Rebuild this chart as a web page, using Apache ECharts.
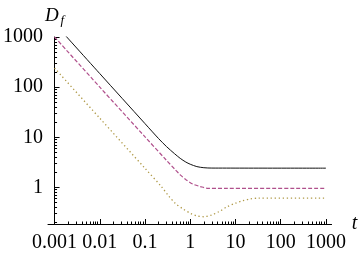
<!DOCTYPE html>
<html><head><meta charset="utf-8">
<script src="https://cdn.jsdelivr.net/npm/echarts@6/dist/echarts.min.js"></script>
<style>html,body{margin:0;padding:0;background:#fff}#c{width:360px;height:256px}</style>
</head><body><div id="c"></div>
<script>
// ---- data ----
const tBlack   = [0.001, 0.01, 0.1, 0.2, 0.3, 0.45, 0.6, 0.8, 1.0, 1.4, 2.0, 3.0, 1000];
const dBlack   = [1860, 186, 18.7, 9.4, 6.5, 4.7, 3.8, 3.2, 2.9, 2.6, 2.47, 2.43, 2.42];
const tMagenta = [0.001, 0.01, 0.1, 0.3, 0.47, 0.6, 0.82, 1.13, 1.68, 2.5, 1000];
const dMagenta = [1000, 100, 10.2, 3.45, 2.24, 1.78, 1.41, 1.17, 1.04, 0.96, 0.96];
const tGold    = [0.001, 0.01, 0.1, 0.23, 0.34, 0.47, 0.7, 1.04, 1.43, 1.97, 2.93, 4.36, 6.5, 9.7, 14.4, 21.4, 31.8, 1000];
const dGold    = [240, 24, 2.4, 1.04, 0.66, 0.48, 0.37, 0.3, 0.27, 0.26, 0.28, 0.33, 0.41, 0.48, 0.54, 0.59, 0.61, 0.61];
const xTickValues = [0.001, 0.01, 0.1, 1, 10, 100, 1000];
const xTickLabels = ['0.001', '0.01', '0.1', '1', '10', '100', '1000'];
const yTickValues = [1, 10, 100, 1000];
const yTickLabels = ['1', '10', '100', '1000'];

// ---- axis transforms (log scale drawn on value axes; t = 0.001 sits at 0) ----
const lx = t => Math.log10(t) + 3;
const ly = d => Math.log10(d);
const xMin = -0.145, xMax = 6.125, yMin = -0.73, yMax = 3;
const font = 'Liberation Serif';

const xMajor = xTickValues.map(lx);
const xMinor = [];
for (let n = -3; n < 3; n++) for (let k = 2; k <= 9; k++) xMinor.push(lx(k * Math.pow(10, n)));
const yMajor = yTickValues.map(ly);
const yMinor = [];
for (let n = -1; n < 3; n++) for (let k = 2; k <= 9; k++) { const v = ly(k * Math.pow(10, n)); if (v >= yMin) yMinor.push(v); }

const nearest = (arr, v) => { let bi = 0; arr.forEach((a, i) => { if (Math.abs(a - v) < Math.abs(arr[bi] - v)) bi = i; }); return bi; };
const pts = (ts, ds) => ts.map((t, i) => [lx(t), ly(ds[i])]);

const chart = echarts.init(document.getElementById('c'), null, {renderer: 'canvas'});
const axisCommon = {type: 'value', splitLine: {show: false}};
chart.setOption({
  animation: false,
  grid: {left: 41, right: 17, top: 37, bottom: 32, containLabel: false},
  xAxis: [
    Object.assign({}, axisCommon, {
      min: xMin, max: xMax, position: 'bottom',
      axisLine: {onZero: false, lineStyle: {color: '#000', width: 1}},
      axisTick: {inside: true, length: 5, customValues: xMajor, lineStyle: {color: '#000', width: 1}},
      axisLabel: {customValues: xMajor, formatter: v => xTickLabels[nearest(xMajor, v)],
        fontFamily: font, fontSize: 20, color: '#000', margin: 9},
      name: 't', nameLocation: 'end', nameGap: 6,
      nameTextStyle: {fontFamily: font, fontStyle: 'italic', fontSize: 20, color: '#000'}
    }),
    Object.assign({}, axisCommon, {
      min: xMin, max: xMax, position: 'bottom',
      axisLine: {show: false, onZero: false},
      axisTick: {inside: true, length: 2.5, customValues: xMinor, lineStyle: {color: '#000', width: 1}},
      axisLabel: {show: false}
    })
  ],
  yAxis: [
    Object.assign({}, axisCommon, {
      min: yMin, max: yMax, position: 'left',
      axisLine: {onZero: true, onZeroAxisIndex: 0, lineStyle: {color: '#000', width: 1}},
      axisTick: {inside: true, length: 5, customValues: yMajor, lineStyle: {color: '#000', width: 1}},
      axisLabel: {customValues: yMajor, formatter: v => yTickLabels[nearest(yMajor, v)],
        fontFamily: font, fontSize: 20, color: '#000', margin: 5},
      name: '{d|D}{f|f}', nameLocation: 'end', nameGap: 6,
      nameTextStyle: {rich: {
        d: {fontFamily: font, fontStyle: 'italic', fontSize: 19, color: '#000'},
        f: {fontFamily: font, fontStyle: 'italic', fontSize: 13, color: '#000', padding: [10, 0, 0, 2]}
      }}
    }),
    Object.assign({}, axisCommon, {
      min: yMin, max: yMax, position: 'left',
      axisLine: {show: false, onZero: true, onZeroAxisIndex: 0},
      axisTick: {inside: true, length: 2.5, customValues: yMinor, lineStyle: {color: '#000', width: 1}},
      axisLabel: {show: false}
    })
  ],
  series: [
    {type: 'line', data: pts(tBlack, dBlack), showSymbol: false, smooth: 0.3, clip: true,
      lineStyle: {color: '#111', width: 1}},
    {type: 'line', data: pts(tMagenta, dMagenta), showSymbol: false, smooth: 0.3, clip: true,
      lineStyle: {color: '#b0508c', width: 1.2, type: [4, 2]}},
    {type: 'line', data: pts(tGold, dGold), showSymbol: false, smooth: 0.3, clip: true,
      lineStyle: {color: '#b09a48', width: 1.3, type: [1.3, 2.7]}}
  ]
});
</script></body></html>
